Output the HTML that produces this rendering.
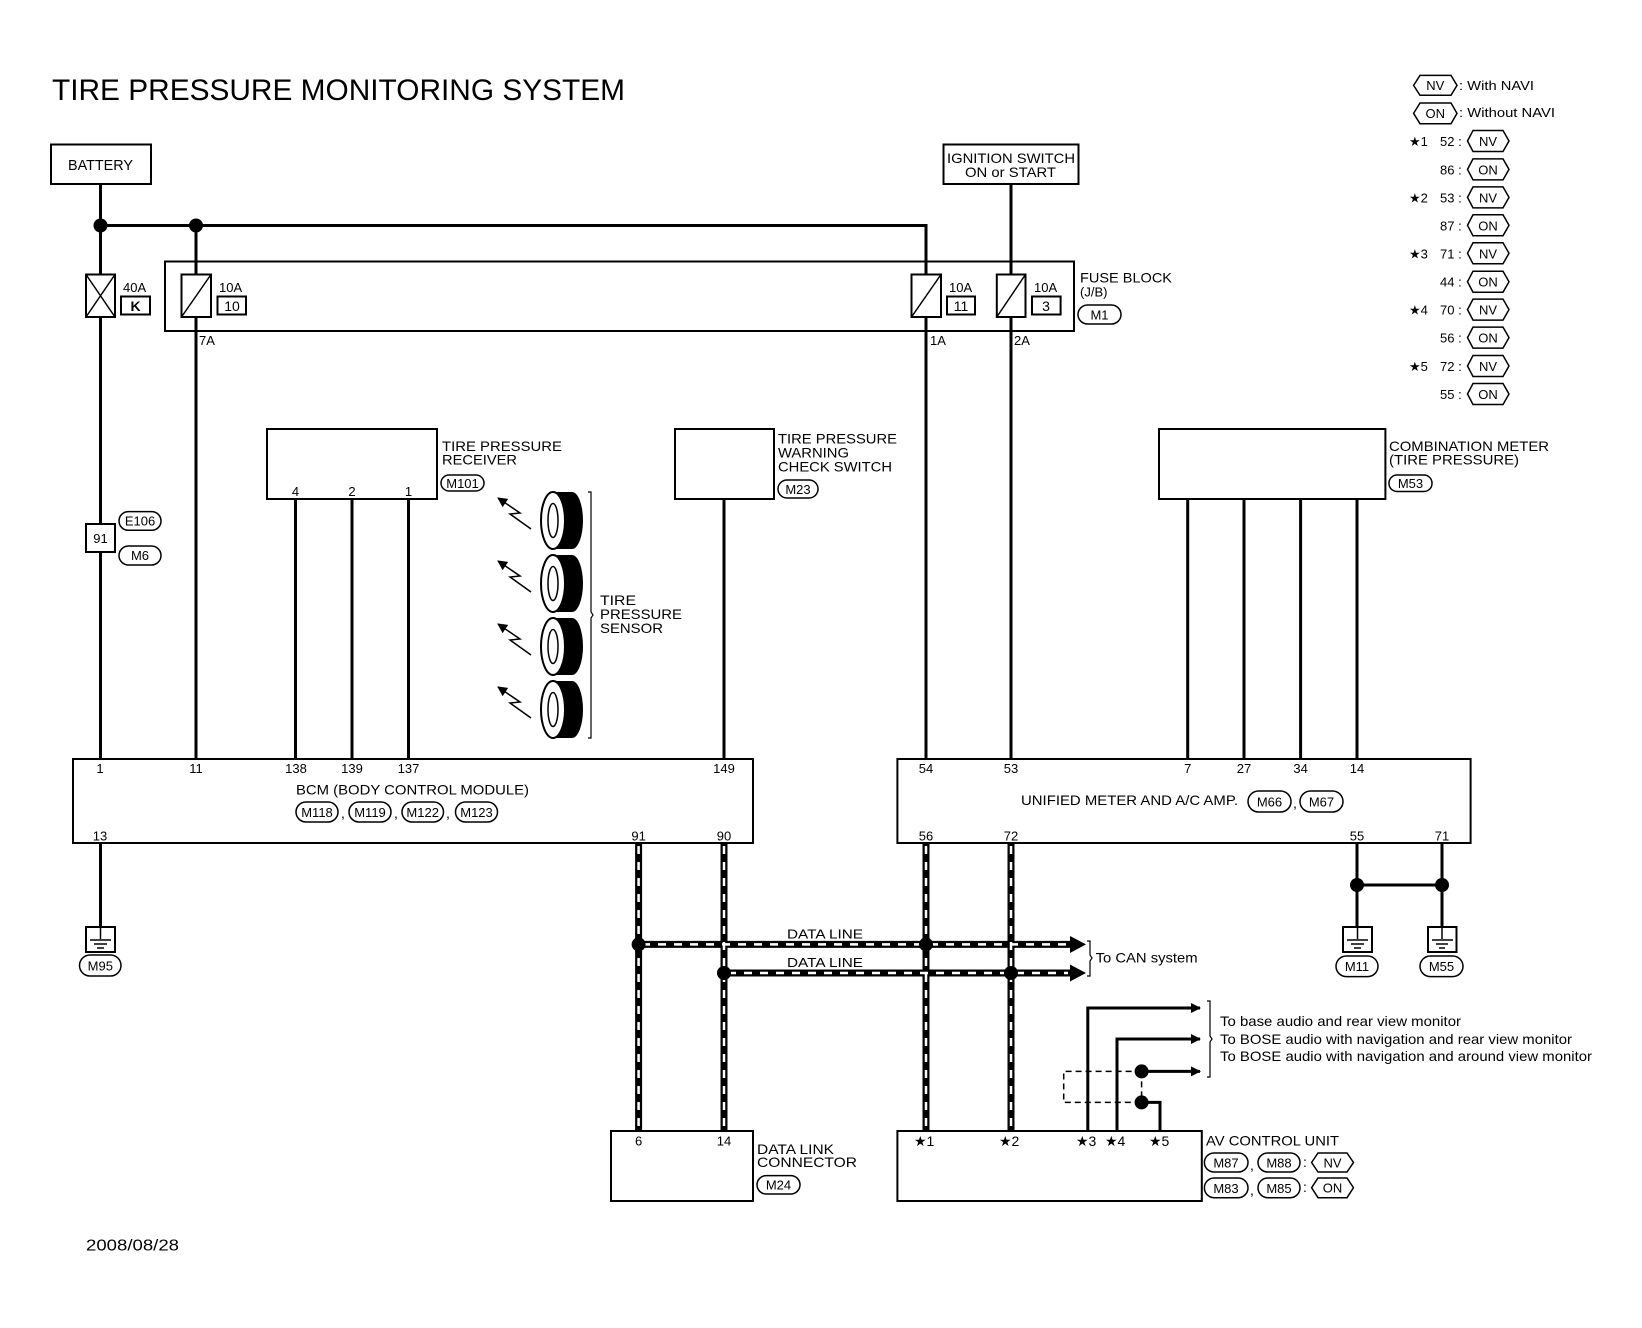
<!DOCTYPE html>
<html><head><meta charset="utf-8"><style>
html,body{margin:0;padding:0;background:#fff}
svg{display:block}
text{font-family:"Liberation Sans",Arial,sans-serif;fill:#000}
</style></head><body>
<svg width="1642" height="1328" viewBox="0 0 1642 1328" xmlns="http://www.w3.org/2000/svg">
<defs>
<marker id="ah" markerWidth="10" markerHeight="10" refX="9" refY="5" orient="auto" markerUnits="userSpaceOnUse"><path d="M0,0 L10,5 L0,10 z" fill="#000"/></marker>
</defs>
<rect width="1642" height="1328" fill="#fff"/>

<text x="52" y="100" font-size="30" textLength="573" lengthAdjust="spacingAndGlyphs">TIRE PRESSURE MONITORING SYSTEM</text>

<rect x="51" y="144.5" width="100" height="39.5" fill="none" stroke="#000" stroke-width="2"/>
<text x="68" y="170" font-size="15" textLength="65" lengthAdjust="spacingAndGlyphs">BATTERY</text>

<rect x="943.5" y="144.5" width="135" height="39.5" fill="none" stroke="#000" stroke-width="2"/>
<text x="947" y="163" font-size="14" textLength="128" lengthAdjust="spacingAndGlyphs">IGNITION SWITCH</text>
<text x="965" y="177" font-size="14" textLength="91" lengthAdjust="spacingAndGlyphs">ON or START</text>

<g stroke="#000" stroke-width="3" fill="none">
<path d="M100.5,184 V759"/>
<path d="M100.5,225.5 H926 V759"/>
<path d="M196,225.5 V759"/>
<path d="M1011,184 V759"/>
<path d="M295.5,499 V759 M352,499 V759 M408.5,499 V759 M724,499 V759"/>
<path d="M1187.7,499 V759 M1244,499 V759 M1300.6,499 V759 M1357,499 V759"/>
<path d="M100.5,843 V927"/>
<path d="M1357,843 V927 M1442,843 V927 M1357,885 H1442"/>
<path d="M1087.8,1131 V1008 H1200" marker-end="url(#ah)"/>
<path d="M1117,1131 V1039 H1200" marker-end="url(#ah)"/>
<path d="M1141.6,1071.4 H1200" marker-end="url(#ah)"/>
<path d="M1160,1131 V1102.4 H1141.6"/>
</g>
<path d="M1141.6,1071.4 H1063.7 V1102.4 H1141.6 M1141.6,1071.4 V1102.4" stroke="#000" stroke-width="1.5" fill="none" stroke-dasharray="6,4"/>

<g fill="#000">
<circle cx="100.5" cy="225.5" r="7"/><circle cx="196" cy="225.5" r="7"/>
<circle cx="1357" cy="885" r="7"/><circle cx="1442" cy="885" r="7"/>
<circle cx="1141.6" cy="1071.4" r="7"/><circle cx="1141.6" cy="1102.4" r="7"/>
</g>

<rect x="165" y="261.5" width="909" height="69.5" fill="#fff" stroke="#000" stroke-width="2"/>
<g stroke="#000" stroke-width="3" fill="none">
<path d="M196,225.5 V331 M926,225.5 V331 M1011,184 V331 M100.5,260 V331"/>
</g>
<g stroke="#000" stroke-width="2" fill="#fff">
<rect x="86" y="274.5" width="29" height="42.5"/>
<rect x="181.5" y="274.5" width="29.5" height="42.5"/>
<rect x="911.5" y="274.5" width="29.5" height="42.5"/>
<rect x="996.8" y="274.5" width="28.7" height="42.5"/>
</g>
<g stroke="#000" stroke-width="1.5">
<path d="M86,274.5 L115,317 M115,274.5 L86,317"/>
<path d="M181.5,317 L211,274.5 M911.5,317 L941,274.5 M996.8,317 L1025.5,274.5"/>
</g>
<g font-size="13">
<text x="123" y="292">40A</text><text x="219" y="292">10A</text><text x="949" y="292">10A</text><text x="1034" y="292">10A</text>
</g>
<g stroke="#000" stroke-width="2" fill="none">
<rect x="121" y="296.5" width="29" height="18"/><rect x="217.5" y="296.5" width="28.5" height="18"/>
<rect x="947" y="296.5" width="28" height="18"/><rect x="1032" y="296.5" width="28.6" height="18"/>
</g>
<g font-size="14" text-anchor="middle">
<text x="135.5" y="311" font-weight="bold">K</text><text x="232" y="311">10</text><text x="961" y="311">11</text><text x="1046" y="311">3</text>
</g>
<g font-size="13"><text x="199" y="345">7A</text><text x="930" y="345">1A</text><text x="1014" y="345">2A</text></g>
<text x="1080" y="282.5" font-size="14" textLength="92" lengthAdjust="spacingAndGlyphs">FUSE BLOCK</text>
<text x="1080" y="296.5" font-size="13">(J/B)</text>

<rect x="86" y="524" width="29" height="28" fill="#fff" stroke="#000" stroke-width="2"/>
<text x="100.5" y="543" font-size="13" text-anchor="middle">91</text>

<rect x="267" y="429" width="170" height="70" fill="#fff" stroke="#000" stroke-width="2"/>
<g font-size="13" text-anchor="middle"><text x="295.5" y="496">4</text><text x="352" y="496">2</text><text x="408.5" y="496">1</text><text x="724" y="496">1</text>
<text x="1187.7" y="496">3</text><text x="1244" y="496">2</text><text x="1300.6" y="496">25</text><text x="1357" y="496">24</text></g>
<text x="442" y="451" font-size="14" textLength="120" lengthAdjust="spacingAndGlyphs">TIRE PRESSURE</text>
<text x="442" y="464.6" font-size="14" textLength="75" lengthAdjust="spacingAndGlyphs">RECEIVER</text>

<rect x="675" y="429" width="99" height="70" fill="#fff" stroke="#000" stroke-width="2"/>
<text x="778" y="443.5" font-size="14" textLength="119" lengthAdjust="spacingAndGlyphs">TIRE PRESSURE</text>
<text x="778" y="457.5" font-size="14" textLength="71" lengthAdjust="spacingAndGlyphs">WARNING</text>
<text x="778" y="471.4" font-size="14" textLength="114" lengthAdjust="spacingAndGlyphs">CHECK SWITCH</text>

<rect x="1159" y="429" width="226.4" height="70" fill="#fff" stroke="#000" stroke-width="2"/>
<text x="1389" y="451" font-size="14" textLength="160" lengthAdjust="spacingAndGlyphs">COMBINATION METER</text>
<text x="1389" y="464.6" font-size="14" textLength="130" lengthAdjust="spacingAndGlyphs">(TIRE PRESSURE)</text>

<g>
<g transform="translate(0,492)">
<path d="M553,0 H572 A11,28.5 0 0 1 572,57 H553 Z" fill="#000"/>
<ellipse cx="553" cy="28.5" rx="12" ry="28.5" fill="#fff" stroke="#000" stroke-width="2"/>
<ellipse cx="553" cy="28.5" rx="5" ry="17" fill="#fff" stroke="#000" stroke-width="1.5"/>
<path d="M531,37 L510,22 L520,21 L498,6" stroke="#000" stroke-width="1.5" fill="none" marker-end="url(#ah)"/>
</g>
<g transform="translate(0,555)">
<path d="M553,0 H572 A11,28.5 0 0 1 572,57 H553 Z" fill="#000"/>
<ellipse cx="553" cy="28.5" rx="12" ry="28.5" fill="#fff" stroke="#000" stroke-width="2"/>
<ellipse cx="553" cy="28.5" rx="5" ry="17" fill="#fff" stroke="#000" stroke-width="1.5"/>
<path d="M531,37 L510,22 L520,21 L498,6" stroke="#000" stroke-width="1.5" fill="none" marker-end="url(#ah)"/>
</g>
<g transform="translate(0,618)">
<path d="M553,0 H572 A11,28.5 0 0 1 572,57 H553 Z" fill="#000"/>
<ellipse cx="553" cy="28.5" rx="12" ry="28.5" fill="#fff" stroke="#000" stroke-width="2"/>
<ellipse cx="553" cy="28.5" rx="5" ry="17" fill="#fff" stroke="#000" stroke-width="1.5"/>
<path d="M531,37 L510,22 L520,21 L498,6" stroke="#000" stroke-width="1.5" fill="none" marker-end="url(#ah)"/>
</g>
<g transform="translate(0,681)">
<path d="M553,0 H572 A11,28.5 0 0 1 572,57 H553 Z" fill="#000"/>
<ellipse cx="553" cy="28.5" rx="12" ry="28.5" fill="#fff" stroke="#000" stroke-width="2"/>
<ellipse cx="553" cy="28.5" rx="5" ry="17" fill="#fff" stroke="#000" stroke-width="1.5"/>
<path d="M531,37 L510,22 L520,21 L498,6" stroke="#000" stroke-width="1.5" fill="none" marker-end="url(#ah)"/>
</g>
</g>
<path d="M588,492 H591 V612 L593,615 L591,618 V738 H588" stroke="#000" stroke-width="1.2" fill="none"/>
<text x="600" y="605" font-size="14" textLength="36" lengthAdjust="spacingAndGlyphs">TIRE</text>
<text x="600" y="619" font-size="14" textLength="82" lengthAdjust="spacingAndGlyphs">PRESSURE</text>
<text x="600" y="633" font-size="14" textLength="63" lengthAdjust="spacingAndGlyphs">SENSOR</text>

<rect x="73" y="759" width="680" height="84" fill="#fff" stroke="#000" stroke-width="2"/>
<g font-size="13" text-anchor="middle">
<text x="100" y="773">1</text><text x="196" y="773">11</text><text x="296" y="773">138</text><text x="352" y="773">139</text><text x="408.5" y="773">137</text><text x="724" y="773">149</text>
<text x="100" y="840.6">13</text><text x="638.6" y="840.6">91</text><text x="724" y="840.6">90</text>
</g>
<text x="296" y="794.5" font-size="14" textLength="233" lengthAdjust="spacingAndGlyphs">BCM (BODY CONTROL MODULE)</text>

<rect x="897.4" y="759" width="573.2" height="84" fill="#fff" stroke="#000" stroke-width="2"/>
<g font-size="13" text-anchor="middle">
<text x="926" y="773">54</text><text x="1011" y="773">53</text><text x="1187.7" y="773">7</text><text x="1244" y="773">27</text><text x="1300.6" y="773">34</text><text x="1357" y="773">14</text>
<text x="926" y="840.6">56</text><text x="1011" y="840.6">72</text><text x="1357" y="840.6">55</text><text x="1442" y="840.6">71</text>
</g>
<text x="1021" y="805" font-size="14" textLength="217" lengthAdjust="spacingAndGlyphs">UNIFIED METER AND A/C AMP.</text>

<g stroke="#000" fill="#fff" stroke-width="2">
<rect x="86" y="927" width="29" height="25"/><rect x="1343" y="927" width="29" height="25"/><rect x="1428" y="927" width="28.5" height="25"/>
</g>
<g stroke="#000" stroke-width="1.5">
<path d="M100.5,927 V939 M90,940 H111 M94,944 H107 M97,948 H104"/>
<path d="M1357.5,927 V939 M1347,940 H1368 M1351,944 H1364 M1354,948 H1361"/>
<path d="M1442,927 V939 M1432,940 H1453 M1436,944 H1448 M1439,948 H1445"/>
</g>

<g fill="none">
<g stroke="#000" stroke-width="7">
<path d="M638.6,843 V1131 M724,843 V1131 M926,843 V1131 M1011,843 V1131"/>
<path d="M638.6,944.4 H1072 M724,973 H1072"/>
</g>
<g stroke="#fff" stroke-width="2.5" stroke-dasharray="8,8">
<path d="M638.6,846 V1128 M724,846 V1128 M926,846 V1128 M1011,846 V1128"/>
<path d="M642,944.4 H1068 M728,973 H1068"/>
</g>
</g>
<path d="M1070,936 L1086,944.4 L1070,953 Z M1070,964.5 L1086,973 L1070,981.5 Z" fill="#000"/>
<g fill="#000"><circle cx="638.6" cy="944.4" r="7"/><circle cx="926" cy="944.4" r="7"/><circle cx="724" cy="973" r="7"/><circle cx="1011" cy="973" r="7"/></g>
<text x="787" y="938.5" font-size="13" textLength="76" lengthAdjust="spacingAndGlyphs">DATA LINE</text>
<text x="787" y="967" font-size="13" textLength="76" lengthAdjust="spacingAndGlyphs">DATA LINE</text>
<path d="M1087,941 H1090 V955 L1092,958 L1090,961 V976 H1087" stroke="#000" stroke-width="1.2" fill="none"/>
<text x="1095.6" y="962.6" font-size="14" textLength="102" lengthAdjust="spacingAndGlyphs">To CAN system</text>

<path d="M1207,1001 H1210 V1036 L1212,1039 L1210,1042 V1077 H1207" stroke="#000" stroke-width="1.2" fill="none"/>
<text x="1220" y="1026" font-size="14" textLength="241" lengthAdjust="spacingAndGlyphs">To base audio and rear view monitor</text>
<text x="1220" y="1044" font-size="14" textLength="352" lengthAdjust="spacingAndGlyphs">To BOSE audio with navigation and rear view monitor</text>
<text x="1220" y="1061" font-size="14" textLength="372" lengthAdjust="spacingAndGlyphs">To BOSE audio with navigation and around view monitor</text>

<rect x="611" y="1131" width="142" height="70" fill="#fff" stroke="#000" stroke-width="2"/>
<g font-size="13" text-anchor="middle"><text x="638.6" y="1145.6">6</text><text x="724" y="1145.6">14</text></g>
<text x="757" y="1154" font-size="14" textLength="77" lengthAdjust="spacingAndGlyphs">DATA LINK</text>
<text x="757" y="1167" font-size="14" textLength="100" lengthAdjust="spacingAndGlyphs">CONNECTOR</text>

<rect x="897.4" y="1131" width="304.4" height="70" fill="#fff" stroke="#000" stroke-width="2"/>
<g font-size="14"><text x="914" y="1146">★1</text><text x="999" y="1146">★2</text><text x="1076" y="1146">★3</text><text x="1105" y="1146">★4</text><text x="1149" y="1146">★5</text></g>
<text x="1206" y="1145.6" font-size="14" textLength="133" lengthAdjust="spacingAndGlyphs">AV CONTROL UNIT</text>

<!-- Ovals (drawn last so they appear over boxes) -->
<g stroke="#000" stroke-width="1.5" fill="#fff">
<rect x="1078" y="305" width="43" height="19" rx="9.5"/>
<rect x="441" y="475" width="43" height="16" rx="8"/>
<rect x="778" y="480" width="40" height="18" rx="9"/>
<rect x="1389" y="475" width="43" height="16.5" rx="8"/>
<rect x="119" y="511.6" width="42" height="18.7" rx="9.3"/>
<rect x="119" y="546" width="42" height="19" rx="9.5"/>
<rect x="296" y="802" width="42" height="20" rx="10"/>
<rect x="349" y="802" width="42" height="20" rx="10"/>
<rect x="402" y="802" width="41.5" height="20" rx="10"/>
<rect x="455.5" y="802" width="42" height="20" rx="10"/>
<rect x="1248" y="791" width="43" height="21" rx="10.5"/>
<rect x="1300" y="791" width="43" height="21" rx="10.5"/>
<rect x="79.5" y="955" width="41.5" height="21" rx="10.5"/>
<rect x="1336" y="956" width="42" height="20.6" rx="10.3"/>
<rect x="1420" y="956" width="43" height="20.6" rx="10.3"/>
<rect x="757" y="1175.6" width="43" height="18.4" rx="9.2"/>
<rect x="1204.4" y="1153" width="43.6" height="19" rx="9.5"/>
<rect x="1258" y="1153" width="42" height="19" rx="9.5"/>
<rect x="1204.4" y="1178" width="43.6" height="19.7" rx="9.8"/>
<rect x="1258" y="1178" width="42" height="19.7" rx="9.8"/>
</g>
<g font-size="13" text-anchor="middle">
<text x="1099.5" y="319.5">M1</text>
<text x="462.5" y="488">M101</text>
<text x="798" y="494">M23</text>
<text x="1410.5" y="488">M53</text>
<text x="140" y="525.5">E106</text>
<text x="140" y="560">M6</text>
<text x="317" y="817">M118</text><text x="370" y="817">M119</text><text x="422.7" y="817">M122</text><text x="476.5" y="817">M123</text>
<text x="1269.5" y="806.5">M66</text><text x="1321.5" y="806.5">M67</text>
<text x="100.3" y="970.5">M95</text><text x="1357" y="971">M11</text><text x="1441.5" y="971">M55</text>
<text x="778.5" y="1189.5">M24</text>
<text x="1226" y="1167.5">M87</text><text x="1279" y="1167.5">M88</text>
<text x="1226" y="1193">M83</text><text x="1279" y="1193">M85</text>
</g>
<g font-size="14"><text x="341" y="818">,</text><text x="394" y="818">,</text><text x="446" y="818">,</text><text x="1293" y="808">,</text><text x="1250" y="1170">,</text><text x="1250" y="1195">,</text>
<text x="1303" y="1167">:</text><text x="1303" y="1192">:</text></g>

<g stroke="#000" stroke-width="1.5" fill="#fff">
<path d="M1413.6,85.4 L1420,75.4 H1451 L1457,85.4 L1451,95.3 H1420 Z"/>
<path d="M1413.6,113.4 L1420,103 H1451 L1457,113.4 L1451,123.7 H1420 Z"/>
<path d="M1311.6,1162.5 L1318,1153 H1347 L1353.5,1162.5 L1347,1172 H1318 Z"/>
<path d="M1311.6,1187.7 L1318,1178 H1347 L1353.5,1187.7 L1347,1197.7 H1318 Z"/>
</g>
<g font-size="13" text-anchor="middle"><text x="1435.3" y="90">NV</text><text x="1435.3" y="118">ON</text><text x="1332.5" y="1167.5">NV</text><text x="1332.5" y="1192.5">ON</text></g>
<text x="1459" y="90" font-size="13" textLength="75" lengthAdjust="spacingAndGlyphs">: With NAVI</text>
<text x="1459" y="117" font-size="13" textLength="96" lengthAdjust="spacingAndGlyphs">: Without NAVI</text>

<g font-size="13">
<g transform="translate(0,141)"><text x="1409" y="5">★1</text><text x="1440" y="5">52 :</text><path d="M1467.5,0 L1473,-10.5 H1503 L1509,0 L1503,10.5 H1473 Z" fill="#fff" stroke="#000" stroke-width="1.5"/><text x="1488" y="5" text-anchor="middle">NV</text></g>
<g transform="translate(0,169.4)"><text x="1440" y="5">86 :</text><path d="M1467.5,0 L1473,-10.5 H1503 L1509,0 L1503,10.5 H1473 Z" fill="#fff" stroke="#000" stroke-width="1.5"/><text x="1488" y="5" text-anchor="middle">ON</text></g>
<g transform="translate(0,197.4)"><text x="1409" y="5">★2</text><text x="1440" y="5">53 :</text><path d="M1467.5,0 L1473,-10.5 H1503 L1509,0 L1503,10.5 H1473 Z" fill="#fff" stroke="#000" stroke-width="1.5"/><text x="1488" y="5" text-anchor="middle">NV</text></g>
<g transform="translate(0,225.3)"><text x="1440" y="5">87 :</text><path d="M1467.5,0 L1473,-10.5 H1503 L1509,0 L1503,10.5 H1473 Z" fill="#fff" stroke="#000" stroke-width="1.5"/><text x="1488" y="5" text-anchor="middle">ON</text></g>
<g transform="translate(0,253.3)"><text x="1409" y="5">★3</text><text x="1440" y="5">71 :</text><path d="M1467.5,0 L1473,-10.5 H1503 L1509,0 L1503,10.5 H1473 Z" fill="#fff" stroke="#000" stroke-width="1.5"/><text x="1488" y="5" text-anchor="middle">NV</text></g>
<g transform="translate(0,281.7)"><text x="1440" y="5">44 :</text><path d="M1467.5,0 L1473,-10.5 H1503 L1509,0 L1503,10.5 H1473 Z" fill="#fff" stroke="#000" stroke-width="1.5"/><text x="1488" y="5" text-anchor="middle">ON</text></g>
<g transform="translate(0,309.6)"><text x="1409" y="5">★4</text><text x="1440" y="5">70 :</text><path d="M1467.5,0 L1473,-10.5 H1503 L1509,0 L1503,10.5 H1473 Z" fill="#fff" stroke="#000" stroke-width="1.5"/><text x="1488" y="5" text-anchor="middle">NV</text></g>
<g transform="translate(0,337.6)"><text x="1440" y="5">56 :</text><path d="M1467.5,0 L1473,-10.5 H1503 L1509,0 L1503,10.5 H1473 Z" fill="#fff" stroke="#000" stroke-width="1.5"/><text x="1488" y="5" text-anchor="middle">ON</text></g>
<g transform="translate(0,366)"><text x="1409" y="5">★5</text><text x="1440" y="5">72 :</text><path d="M1467.5,0 L1473,-10.5 H1503 L1509,0 L1503,10.5 H1473 Z" fill="#fff" stroke="#000" stroke-width="1.5"/><text x="1488" y="5" text-anchor="middle">NV</text></g>
<g transform="translate(0,394)"><text x="1440" y="5">55 :</text><path d="M1467.5,0 L1473,-10.5 H1503 L1509,0 L1503,10.5 H1473 Z" fill="#fff" stroke="#000" stroke-width="1.5"/><text x="1488" y="5" text-anchor="middle">ON</text></g>
</g>

<text x="86" y="1250.6" font-size="16" textLength="93" lengthAdjust="spacingAndGlyphs">2008/08/28</text>
</svg>
</body></html>
